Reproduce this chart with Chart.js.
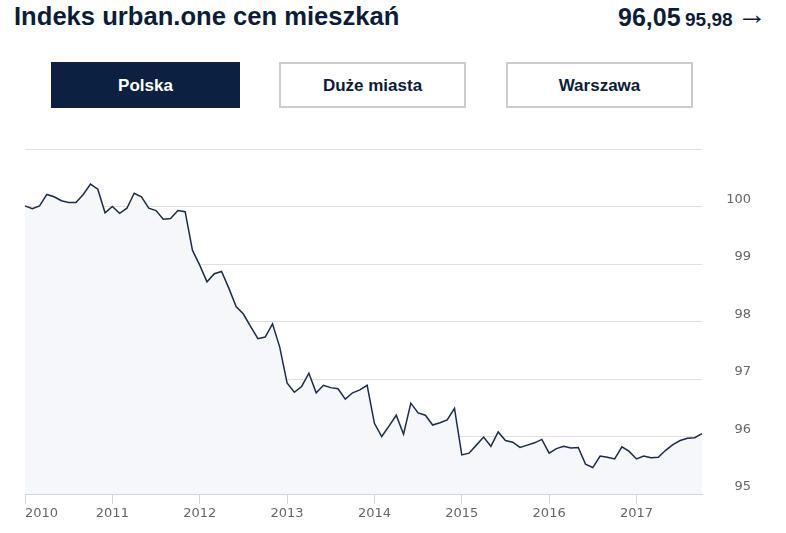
<!DOCTYPE html>
<html>
<head>
<meta charset="utf-8">
<script src="https://cdn.jsdelivr.net/npm/chart.js@4"></script>
<style>
  body { margin: 0; background: #fff; font-family: "Liberation Sans", Arial, sans-serif; color: #0b1d3a; }
  .title { position: absolute; left: 14px; top: 4px; font-size: 25.6px; line-height: 25px; font-weight: bold; white-space: nowrap; }
  .current { position: absolute; left: 618px; top: 3px; line-height: 25px; white-space: nowrap; }
  .current .big { font-size: 25px; font-weight: bold; }
  .current .small { font-size: 19px; font-weight: bold; }
  .current .arrow { font-size: 30px; font-weight: normal; position: relative; top: -2px; }
  .btn { position: absolute; top: 62px; width: 189px; height: 46px; box-sizing: border-box;
         border: 2px solid #cccccc; background: #fff; font-size: 17px; font-weight: bold;
         text-align: center; line-height: 43px; }
  .btn.active { background: #0c2142; border-color: #0c2142; color: #fff; }
  #wrap { position: absolute; left: 0; top: 140px; width: 751px; height: 393px; }
</style>
</head>
<body>
<div class="title">Indeks urban.one cen mieszkań</div>
<div class="current"><span class="big">96,05</span> <span class="small">95,98</span> <span class="arrow">→</span></div>
<div class="btn active" style="left:51px">Polska</div>
<div class="btn" style="left:279px; width:187px">Duże miasta</div>
<div class="btn" style="left:506px; width:187px">Warszawa</div>
<div id="wrap"><canvas id="chart"></canvas></div>
<script>
// monthly index values, Jan 2010 - Oct 2017
const years = ['2010', '2011', '2012', '2013', '2014', '2015', '2016', '2017'];
const values = [
  100.01, 99.96, 100.01, 100.21, 100.17, 100.10, 100.07, 100.07, 100.21, 100.39, 100.30, 99.89,
  100.00, 99.88, 99.97, 100.23, 100.17, 99.97, 99.93, 99.78, 99.79, 99.93, 99.91, 99.24,
  98.98, 98.69, 98.83, 98.87, 98.58, 98.26, 98.13, 97.91, 97.70, 97.73, 97.96, 97.55,
  96.93, 96.77, 96.87, 97.10, 96.76, 96.89, 96.85, 96.83, 96.65, 96.76, 96.81, 96.89,
  96.23, 96.00, 96.18, 96.37, 96.04, 96.58, 96.41, 96.37, 96.20, 96.24, 96.29, 96.49,
  95.68, 95.71, 95.85, 95.99, 95.83, 96.08, 95.93, 95.90, 95.81, 95.85, 95.89, 95.95,
  95.71, 95.79, 95.83, 95.80, 95.81, 95.52, 95.46, 95.66, 95.64, 95.61, 95.82, 95.74,
  95.61, 95.66, 95.63, 95.64, 95.76, 95.86, 95.93, 95.97, 95.98, 96.05
];
const yTicks = [95, 96, 97, 98, 99, 100];

const labels = values.map((v, i) => years[Math.floor(i / 12)] + '-' + String(i % 12 + 1).padStart(2, '0'));

const tickFont = { family: 'DejaVu Sans', size: 13 };

new Chart(document.getElementById('chart'), {
  type: 'line',
  data: {
    labels: labels,
    datasets: [{
      data: values,
      borderColor: '#1b2c48',
      borderWidth: 1.5,
      backgroundColor: '#f5f7fa',
      fill: 'start',
      pointRadius: 0,
      tension: 0
    }]
  },
  options: {
    responsive: true,
    maintainAspectRatio: false,
    animation: false,
    layout: { padding: { left: 25, top: 9, right: 0, bottom: 0 } },
    plugins: { legend: { display: false }, tooltip: { enabled: false } },
    scales: {
      x: {
        offset: false,
        border: { display: true, color: '#ccd6eb', width: 1 },
        grid: {
          drawOnChartArea: false,
          drawTicks: true,
          tickLength: 10,
          color: ctx => (ctx.index % 12 === 0 ? '#ccd6eb' : 'rgba(0,0,0,0)')
        },
        ticks: {
          autoSkip: false,
          maxRotation: 0,
          minRotation: 0,
          align: 'inner',
          padding: 2,
          color: '#666666',
          font: tickFont,
          callback: function (val, i) {
            return i % 12 === 0 ? this.getLabelForValue(val).slice(0, 4) : '';
          }
        },
        afterFit: scale => { scale.height = 39; }
      },
      y: {
        position: 'right',
        min: 95,
        max: 101,
        border: { display: false },
        grid: { color: '#e0e0e0', lineWidth: 1, drawTicks: true, tickLength: 24, tickColor: 'rgba(0,0,0,0)' },
        ticks: {
          stepSize: 1,
          crossAlign: 'far',
          padding: 0,
          labelOffset: -7,
          color: '#666666',
          font: tickFont,
          callback: v => (yTicks.includes(v) ? String(v) : '')
        },
        afterFit: scale => { scale.width = 49; }
      }
    }
  }
});
</script>
</body>
</html>
